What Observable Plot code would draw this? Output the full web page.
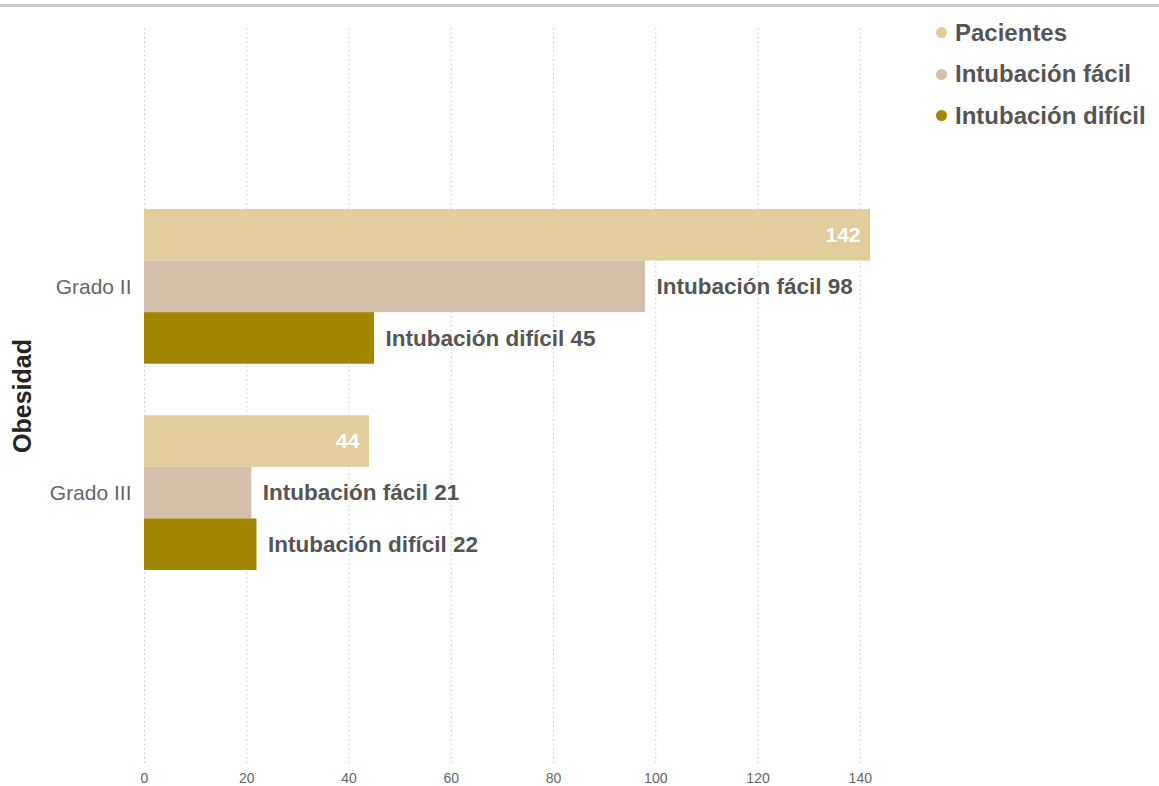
<!DOCTYPE html>
<html>
<head>
<meta charset="utf-8">
<script src="https://cdn.jsdelivr.net/npm/d3@7"></script>
<script src="https://cdn.jsdelivr.net/npm/@observablehq/plot@0.6"></script>
<style>
  html, body { margin: 0; padding: 0; background: #fff; }
  body { width: 1159px; height: 786px; position: relative; overflow: hidden; font-family: "Liberation Sans", Arial, sans-serif; }
  #topline { position: absolute; left: 0; top: 4px; width: 1159px; height: 3px; background: #c8c8c8; }
  #chart { position: absolute; left: 0; top: 0; }
  #legend { position: absolute; left: 936px; top: 12px; }
  .lg-row { display: flex; align-items: center; height: 41.5px; font-size: 24px; font-weight: bold; color: #555; }
  .lg-dot { width: 11px; height: 11px; border-radius: 50%; margin-right: 8px; }
  g[aria-label="y-axis label"] text { font-size: 25px; font-weight: bold; fill: #252423; }
</style>
</head>
<body>
<div id="topline"></div>
<div id="chart"></div>
<div id="legend"></div>
<script>
// ---- data ----
const grados = ["Grado II", "Grado III"];
const series = ["Pacientes", "Intubación fácil", "Intubación difícil"];
const pacientes = [142, 44];
const intubacionFacil = [98, 21];
const intubacionDificil = [45, 22];
const xTicks = [0, 20, 40, 60, 80, 100, 120, 140];
const colors = ["#E2CD9C", "#D3BFAA", "#A38600"];
const yLabel = "Obesidad";

// ---- build table ----
const valuesBySerie = [pacientes, intubacionFacil, intubacionDificil];
const rows = [];
const yDomain = [];
grados.forEach((g, gi) => {
  if (gi > 0) yDomain.push(g + "|gap");
  series.forEach((s, si) => {
    const key = g + "|" + s;
    yDomain.push(key);
    rows.push({grado: g, serie: s, key, value: valuesBySerie[si][gi]});
  });
});
const tickKeys = grados.map(g => g + "|" + series[1]);

const chart = Plot.plot({
  width: 1159,
  height: 786,
  marginTop: 28,
  marginBottom: 23,
  marginLeft: 144,
  marginRight: 289,
  style: {fontFamily: "Liberation Sans, Arial, sans-serif", color: "#666", background: "transparent"},
  x: {domain: [0, 142]},
  y: {domain: yDomain, range: [209, 570], padding: 0, round: false},
  color: {domain: series, range: colors},
  marks: [
    Plot.ruleX(xTicks, {stroke: "#c6c6c6", strokeWidth: 1, strokeDasharray: "1.5,3"}),
    Plot.barX(rows, {x: "value", y: "key", fill: "serie"}),
    Plot.text(rows.filter(d => d.serie === series[0]), {
      x: "value", y: "key", text: d => String(d.value),
      textAnchor: "end", dx: -10, fill: "white", fontWeight: "bold", fontSize: 21
    }),
    Plot.text(rows.filter(d => d.serie !== series[0]), {
      x: "value", y: "key", text: d => `${d.serie} ${d.value}`,
      textAnchor: "start", dx: 11, fill: "#555", fontWeight: "bold", fontSize: 22.5
    }),
    Plot.axisX({ticks: xTicks, tickSize: 0, tickPadding: 10, fontSize: 14, label: null}),
    Plot.axisY({ticks: tickKeys, tickFormat: k => k.split("|")[0], tickSize: 0, tickPadding: 13,
      fontSize: 21, label: yLabel, labelAnchor: "center", labelOffset: 131})
  ]
});
document.getElementById("chart").appendChild(chart);

// ---- legend ----
const legend = document.getElementById("legend");
series.forEach((s, i) => {
  const row = document.createElement("div");
  row.className = "lg-row";
  const dot = document.createElement("span");
  dot.className = "lg-dot";
  dot.style.background = colors[i];
  const label = document.createElement("span");
  label.textContent = s;
  row.appendChild(dot);
  row.appendChild(label);
  legend.appendChild(row);
});
</script>
</body>
</html>
